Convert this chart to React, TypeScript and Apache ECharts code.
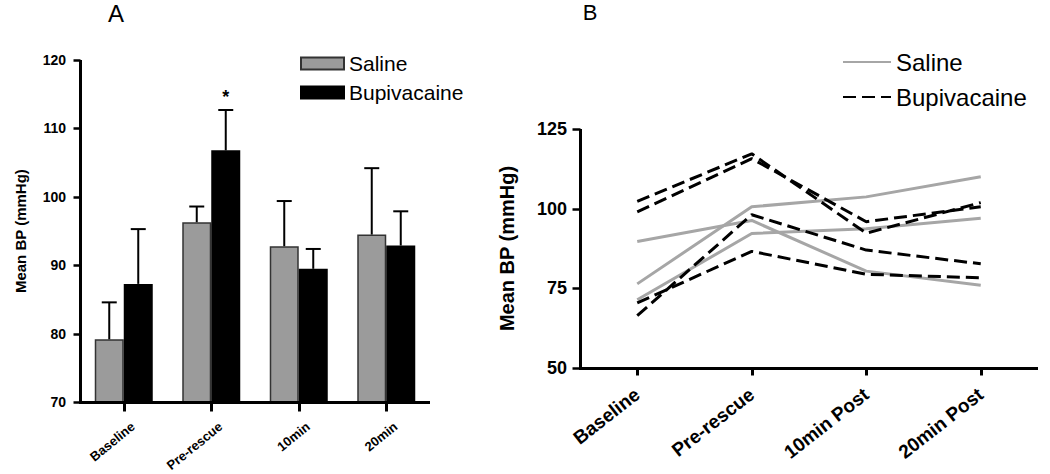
import React, { useEffect, useRef } from "react";
import * as echarts from "echarts";

// ---------- Panel A data (bar chart, mean + upper error) ----------
const categoriesA = ["Baseline", "Pre-rescue", "10min", "20min"];
const salineMeanA = [79.2, 96.3, 92.8, 94.5];
const salineUpperA = [84.6, 98.6, 99.4, 104.2];
const bupiMeanA = [87.3, 106.8, 89.5, 92.9];
const bupiUpperA = [95.3, 112.7, 92.4, 97.9];
const bupiMarksA = ["", "*", "", ""];
const yTicksA = [70, 80, 90, 100, 110, 120];

// ---------- Panel B data (individual animals) ----------
const categoriesB = ["Baseline", "Pre-rescue", "10min Post", "20min Post"];
const salineAnimal1 = [89.7, 96.3, 80.4, 76.0];
const salineAnimal2 = [76.4, 100.6, 103.7, 110.0];
const salineAnimal3 = [71.4, 92.2, 93.7, 97.0];
const bupiAnimal1 = [102.3, 117.2, 92.3, 101.9];
const bupiAnimal2 = [99.0, 115.7, 95.9, 100.6];
const bupiAnimal3 = [66.4, 98.1, 87.0, 82.7];
const bupiAnimal4 = [70.4, 86.6, 79.4, 78.3];
const yTicksB = [50, 75, 100, 125];

const FONT = "'Liberation Sans', Arial, Helvetica, sans-serif";
const SALINE_BAR = "#9b9b9b";
const SALINE_LINE = "#a6a6a6";
const BAR_W = 29;

const makeErrorRender = (offset: number, marks: string[]) => (params: any, api: any) => {
  const idx = api.value(0);
  const base = api.coord([idx, api.value(1)]);
  const top = api.coord([idx, api.value(2)]);
  const x = base[0] + offset;
  const children: any[] = [
    { type: "line", shape: { x1: x, y1: base[1], x2: x, y2: top[1] }, style: { stroke: "#000", lineWidth: 2 } },
    { type: "line", shape: { x1: x - 7.5, y1: top[1], x2: x + 7.5, y2: top[1] }, style: { stroke: "#000", lineWidth: 2 } },
  ];
  const m = marks[params.dataIndex];
  if (m) {
    children.push({
      type: "text",
      style: { text: m, x: x, y: top[1] - 4, align: "center", verticalAlign: "bottom", font: `bold 18px ${FONT}`, fill: "#000" },
    });
  }
  return { type: "group", children };
};

// Axis frame (axis lines + ticks) located through the axes' own scales
const makeFrameRender = (nCats: number, ticks: number[], xTickLen: number, yTickLen: number) => (params: any, api: any) => {
  const yMin = ticks[0];
  const yMax = ticks[ticks.length - 1];
  const band = api.size([1, 0])[0];
  const first = api.coord([0, yMin]);
  const last = api.coord([nCats - 1, yMin]);
  const topPt = api.coord([0, yMax]);
  const left = Math.round(first[0] - band / 2) + 0.5;
  const right = last[0] + band / 2;
  const bottom = Math.round(first[1]) + 0.5;
  const top = topPt[1];
  const stroke = { stroke: "#000", lineWidth: 3 };
  const children: any[] = [
    { type: "line", shape: { x1: left, y1: top, x2: left, y2: bottom + 1.5 }, style: stroke },
    { type: "line", shape: { x1: left - 1.5, y1: bottom, x2: right, y2: bottom }, style: stroke },
  ];
  ticks.forEach((v) => {
    const y = Math.round(api.coord([0, v])[1]) + 0.5;
    children.push({ type: "line", shape: { x1: left - yTickLen, y1: y, x2: left, y2: y }, style: { stroke: "#000", lineWidth: 2.5 } });
  });
  for (let i = 0; i < nCats; i++) {
    const x = Math.round(api.coord([i, yMin])[0]) + 0.5;
    children.push({ type: "line", shape: { x1: x, y1: bottom, x2: x, y2: bottom + xTickLen }, style: { stroke: "#000", lineWidth: 3 } });
  }
  return { type: "group", children };
};

export default function App() {
  const ref = useRef<HTMLDivElement>(null);

  useEffect(() => {
    if (!ref.current) return;
    const chart = echarts.init(ref.current, undefined, { renderer: "svg" });

    const salineLines = [salineAnimal1, salineAnimal2, salineAnimal3].map((d) => ({
      name: "Saline ",
      type: "line",
      xAxisIndex: 1,
      yAxisIndex: 1,
      data: d,
      symbol: "none",
      lineStyle: { color: SALINE_LINE, width: 3 },
      itemStyle: { color: SALINE_LINE },
      z: 2,
    }));
    const bupiLines = [bupiAnimal1, bupiAnimal2, bupiAnimal3, bupiAnimal4].map((d) => ({
      name: "Bupivacaine ",
      type: "line",
      xAxisIndex: 1,
      yAxisIndex: 1,
      data: d,
      symbol: "none",
      lineStyle: { color: "#000", width: 3, type: [13, 6] },
      itemStyle: { color: "#000" },
      z: 3,
    }));

    const option: any = {
      animation: false,
      backgroundColor: "#fff",
      textStyle: { fontFamily: FONT },
      graphic: [
        { type: "text", x: 116, y: 13, style: { text: "A", font: `24px ${FONT}`, fill: "#000", align: "center", verticalAlign: "middle" } },
        { type: "text", x: 590, y: 12, style: { text: "B", font: `22px ${FONT}`, fill: "#000", align: "center", verticalAlign: "middle" } },
      ],
      grid: [
        { left: 80, top: 60, width: 350, height: 344 },
        { left: 580, top: 129, width: 458, height: 239 },
      ],
      legend: [
        {
          data: ["Saline", "Bupivacaine"],
          orient: "vertical",
          left: 300,
          top: 53,
          padding: 0,
          itemWidth: 43,
          itemHeight: 12,
          itemGap: 8,
          icon: "rect",
          textStyle: { fontSize: 21, color: "#000", fontFamily: FONT },
        },
        {
          data: ["Saline ", "Bupivacaine "],
          orient: "vertical",
          left: 842,
          top: 50,
          padding: 0,
          itemWidth: 48,
          itemHeight: 14,
          itemGap: 11,
          itemStyle: { color: "transparent", borderWidth: 0, opacity: 0 },
          textStyle: { fontSize: 24, color: "#000", fontFamily: FONT },
          formatter: (n: string) => n.trim(),
        },
      ],
      xAxis: [
        {
          gridIndex: 0,
          type: "category",
          data: categoriesA,
          axisLine: { show: false, onZero: false },
          axisTick: { show: false, alignWithLabel: true },
          axisLabel: { rotate: 39, margin: 30, padding: [0, -12, 0, 0], fontSize: 13, fontWeight: "bold", color: "#000", fontFamily: FONT },
        },
        {
          gridIndex: 1,
          type: "category",
          data: categoriesB,
          axisLine: { show: false, onZero: false },
          axisTick: { show: false, alignWithLabel: true },
          axisLabel: { rotate: 38, margin: 24, fontSize: 19, fontWeight: "bold", color: "#000", fontFamily: FONT },
        },
      ],
      yAxis: [
        {
          gridIndex: 0,
          type: "value",
          min: yTicksA[0],
          max: yTicksA[yTicksA.length - 1],
          interval: yTicksA[1] - yTicksA[0],
          name: "Mean BP (mmHg)",
          nameLocation: "middle",
          nameGap: 52,
          nameTextStyle: { fontSize: 15, fontWeight: "bold", color: "#000", fontFamily: FONT },
          axisLine: { show: false, onZero: false },
          axisTick: { show: false },
          splitLine: { show: false },
          axisLabel: { margin: 14, fontSize: 14, fontWeight: "bold", color: "#000", fontFamily: FONT },
        },
        {
          gridIndex: 1,
          type: "value",
          min: yTicksB[0],
          max: yTicksB[yTicksB.length - 1],
          interval: yTicksB[1] - yTicksB[0],
          name: "Mean BP (mmHg)",
          nameLocation: "middle",
          nameGap: 63,
          nameTextStyle: { fontSize: 20, fontWeight: "bold", color: "#000", fontFamily: FONT },
          axisLine: { show: false, onZero: false },
          axisTick: { show: false },
          splitLine: { show: false },
          axisLabel: { margin: 13, fontSize: 18, fontWeight: "bold", color: "#000", fontFamily: FONT },
        },
      ],
      series: [
        {
          name: "Saline",
          type: "bar",
          xAxisIndex: 0,
          yAxisIndex: 0,
          data: salineMeanA,
          barWidth: BAR_W,
          barGap: "0%",
          itemStyle: { color: SALINE_BAR, borderColor: "#333", borderWidth: 1.5 },
        },
        {
          name: "Bupivacaine",
          type: "bar",
          xAxisIndex: 0,
          yAxisIndex: 0,
          data: bupiMeanA,
          barWidth: BAR_W,
          barGap: "0%",
          itemStyle: { color: "#000", borderColor: "#000", borderWidth: 1.5 },
        },
        {
          name: "Saline",
          type: "custom",
          xAxisIndex: 0,
          yAxisIndex: 0,
          data: categoriesA.map((_, i) => [i, salineMeanA[i], salineUpperA[i]]),
          encode: { x: 0, y: [1, 2] },
          renderItem: makeErrorRender(-BAR_W / 2, ["", "", "", ""]),
          z: 5,
        },
        {
          name: "Bupivacaine",
          type: "custom",
          xAxisIndex: 0,
          yAxisIndex: 0,
          data: categoriesA.map((_, i) => [i, bupiMeanA[i], bupiUpperA[i]]),
          encode: { x: 0, y: [1, 2] },
          renderItem: makeErrorRender(BAR_W / 2, bupiMarksA),
          z: 5,
        },
        {
          name: "frameA",
          type: "custom",
          xAxisIndex: 0,
          yAxisIndex: 0,
          silent: true,
          clip: false,
          data: [[0, yTicksA[0]]],
          encode: { x: 0, y: 1 },
          renderItem: makeFrameRender(categoriesA.length, yTicksA, 9, 7),
          z: 10,
        },
        {
          name: "frameB",
          type: "custom",
          xAxisIndex: 1,
          yAxisIndex: 1,
          silent: true,
          clip: false,
          data: [[0, yTicksB[0]]],
          encode: { x: 0, y: 1 },
          renderItem: makeFrameRender(categoriesB.length, yTicksB, 7, 8),
          z: 10,
        },
        ...salineLines,
        ...bupiLines,
      ],
    };

    chart.setOption(option);
    return () => chart.dispose();
  }, []);

  return (
    <div
      ref={ref}
      style={{ position: "fixed", left: 0, top: 0, width: 1050, height: 474, background: "#fff" }}
    />
  );
}
